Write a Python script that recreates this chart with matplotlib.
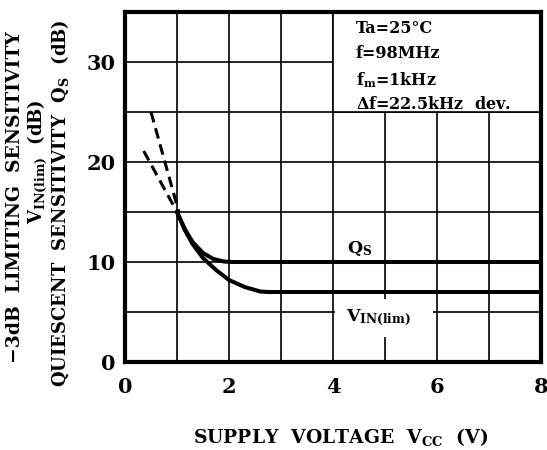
import matplotlib
matplotlib.use("Agg")
import matplotlib.pyplot as plt
from matplotlib.patches import Rectangle

plt.rcParams['font.family'] = 'DejaVu Serif'
plt.rcParams['font.weight'] = 'bold'
plt.rcParams['mathtext.fontset'] = 'custom'
plt.rcParams['mathtext.rm'] = 'DejaVu Serif:bold'
plt.rcParams['mathtext.it'] = 'DejaVu Serif:bold:italic'
plt.rcParams['mathtext.bf'] = 'DejaVu Serif:bold'

# Data
qs_x = [1.0, 1.15, 1.3, 1.5, 1.7, 1.9, 2.05, 8.0]
qs_y = [15.0, 13.3, 12.0, 10.9, 10.3, 10.05, 10.0, 10.0]
vin_x = [1.0, 1.15, 1.3, 1.5, 1.75, 2.0, 2.3, 2.6, 2.75, 8.0]
vin_y = [15.0, 13.2, 11.8, 10.4, 9.2, 8.2, 7.5, 7.05, 7.0, 7.0]
qs_dash_x = [0.36, 1.0]
qs_dash_y = [21.1, 15.0]
vin_dash_x = [0.5, 1.04]
vin_dash_y = [25.0, 14.9]
xticks = [0, 2, 4, 6, 8]
yticks = [0, 10, 20, 30]

fig = plt.figure(figsize=(5.47, 4.5), dpi=100)
ax = fig.add_axes([125/547, 1-362/450, (541-125)/547, (362-12)/450])
ax.set_xlim(0, 8)
ax.set_ylim(0, 35)

for gx in range(1, 8):
    ax.axvline(gx, color='black', lw=1.2, zorder=1)
for gy in range(5, 35, 5):
    ax.axhline(gy, color='black', lw=1.2, zorder=1)

# condition box
ax.add_patch(Rectangle((4.0, 25.0), 4.0, 10.0, facecolor='white', edgecolor='black', lw=1.2, zorder=2))
# white area behind V_IN(lim) label
ax.add_patch(Rectangle((4.03, 2.5), 1.9, 3.8, facecolor='white', edgecolor='none', zorder=2))

ax.plot(qs_x, qs_y, color='black', lw=2.9, zorder=3, solid_capstyle='butt')
ax.plot(vin_x, vin_y, color='black', lw=2.9, zorder=3, solid_capstyle='butt')
ax.plot(qs_dash_x, qs_dash_y, color='black', lw=2.2, ls=(0, (3.5, 2)), zorder=3)
ax.plot(vin_dash_x, vin_dash_y, color='black', lw=2.2, ls=(0, (3.5, 2)), zorder=3)

for s in ax.spines.values():
    s.set_linewidth(3.0)
    s.set_zorder(5)

ax.set_xticks(xticks)
ax.set_yticks(yticks)
ax.tick_params(length=0, labelsize=15)
ax.tick_params(axis='x', pad=11)
ax.tick_params(axis='y', pad=7)
for lab in ax.get_xticklabels() + ax.get_yticklabels():
    lab.set_fontweight('bold')

fs = 11.5
ax.text(4.44, 34.2, 'Ta=25°C', fontsize=fs, va='top', ha='left', zorder=4)
ax.text(4.44, 31.7, 'f=98MHz', fontsize=fs, va='top', ha='left', zorder=4)
ax.text(4.44, 29.2, r'f$_{\rm m}$=1kHz', fontsize=fs, va='top', ha='left', zorder=4)
ax.text(4.44, 26.6, r'$\it{\Delta}$f=22.5kHz  dev.', fontsize=fs, va='top', ha='left', zorder=4)

ax.text(4.27, 10.45, r'Q$_{\rm S}$', fontsize=12.5, va='bottom', ha='left', zorder=4)
ax.text(4.25, 4.4, r'V$_{\rm IN(lim)}$', fontsize=12.5, va='center', ha='left', zorder=4)

fig.text(341/547, 1-437/450, r'SUPPLY  VOLTAGE  V$_{\rm CC}$  (V)', fontsize=13.5,
         ha='center', va='center')

fig.text(15/547, 1-197/450, '−3dB  LIMITING  SENSITIVITY', fontsize=13.5, rotation=90,
         ha='center', va='center')
fig.text(37/547, 1-162/450, r'V$_{\rm IN(lim)}$  (dB)', fontsize=13, rotation=90,
         ha='center', va='center')
fig.text(60/547, 1-203/450, r'QUIESCENT  SENSITIVITY  Q$_{\rm S}$  (dB)', fontsize=13, rotation=90,
         ha='center', va='center')

fig.savefig('out.png', dpi=100)
